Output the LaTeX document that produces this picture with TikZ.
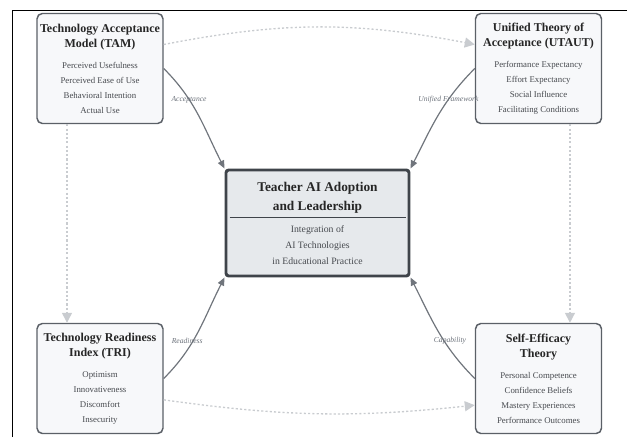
\documentclass[tikz,border=0pt]{standalone}
\usepackage{fontspec}
\setmainfont{Liberation Serif}
\usetikzlibrary{arrows.meta}

\definecolor{boxfill}{HTML}{F7F8FA}
\definecolor{boxline}{HTML}{5B6067}
\definecolor{corefill}{HTML}{E6E9EC}
\definecolor{coreline}{HTML}{3F444A}
\definecolor{linkgray}{HTML}{70757C}
\definecolor{flowgray}{HTML}{C9CCD0}
\definecolor{headtext}{HTML}{262626}
\definecolor{itemtext}{HTML}{474A4F}
\definecolor{labeltext}{HTML}{6B717A}

\newcommand{\headfont}{\fontsize{9}{11}\selectfont\bfseries\color{headtext}}
\newcommand{\corehead}{\fontsize{10}{12}\selectfont\bfseries\color{headtext}}

\tikzset{
  framework/.style={draw=boxline, fill=boxfill, line width=1.1pt, rounded corners=4pt,
    minimum width=94.5pt, minimum height=82.5pt, align=center, inner sep=2pt,
    text=itemtext, font=\fontsize{6.6}{11.25}\selectfont},
  core/.style={draw=coreline, fill=corefill, line width=2.2pt, rounded corners=2pt,
    minimum width=137.25pt, minimum height=79.5pt, align=center, inner sep=2pt,
    text=itemtext, font=\fontsize{7.3}{12}\selectfont},
  link/.style={draw=linkgray, line width=0.9pt, -{Triangle[length=6pt,width=5pt]}},
  flow/.style={draw=flowgray, line width=1pt, dashed, dash pattern=on 1.6pt off 1.6pt,
    -{Triangle[length=7.5pt,width=7.5pt]}},
  linklabel/.style={font=\fontsize{5.7}{7}\selectfont\itshape, text=labeltext, inner sep=1pt}
}

\begin{document}
\begin{tikzpicture}[x=0.75pt,y=0.75pt]
\useasboundingbox (0,0) rectangle (627,437);

% page frame
\draw[black, line width=0.75pt] (12,0) -- (12,427) -- (627,427);

% the four frameworks
\node[framework] (tam) at (100,368.5) {%
  {\headfont Technology Acceptance}\\{\headfont Model (TAM)}\\[4.5pt]
  Perceived Usefulness\\Perceived Ease of Use\\Behavioral Intention\\Actual Use};
\node[framework] (utaut) at (538.5,368.5) {%
  {\headfont Unified Theory of}\\{\headfont Acceptance (UTAUT)}\\[4.5pt]
  Performance Expectancy\\Effort Expectancy\\Social Influence\\Facilitating Conditions};
\node[framework] (tri) at (100,58.5) {%
  {\headfont Technology Readiness}\\{\headfont Index (TRI)}\\[4.5pt]
  Optimism\\Innovativeness\\Discomfort\\Insecurity};
\node[framework] (se) at (538.5,58.5) {%
  {\headfont Self-Efficacy}\\{\headfont Theory}\\[4.5pt]
  Personal Competence\\Confidence Beliefs\\Mastery Experiences\\Performance Outcomes};

% central concept
\node[core] (core) at (317.5,214) {%
  {\corehead Teacher AI Adoption}\\[2.25pt]{\corehead and Leadership}\\[-6pt]
  {\color{coreline}\rule{132pt}{0.5pt}}\\[-1.5pt]
  Integration of\\AI Technologies\\in Educational Practice};

% links into the centre
\draw[link] (tam.east) to[out=-45,in=117]
  node[linklabel,pos=0.33] (accLbl) {Acceptance} (core.north west);
\draw[link] (utaut.west) to[out=-135,in=63]
  node[linklabel,pos=0.33] (uniLbl) {Unified Framework} (core.north east);
\draw[link] (tri.east) to[out=45,in=-117]
  node[linklabel,pos=0.4,xshift=-4.5pt] (rdyLbl) {Readiness} (core.south west);
\draw[link] (se.west) to[out=135,in=-63]
  node[linklabel,pos=0.4,xshift=4.5pt] (capLbl) {Capability} (core.south east);

% flow between frameworks
\draw[flow] ([yshift=18pt]tam.east) to[bend left=11] ([yshift=18pt]utaut.west);
\draw[flow] ([yshift=-16pt]tri.east) to[bend right=7] ([yshift=-20pt]se.west);
\draw[flow] ([xshift=-24.75pt]tam.south) -- ([xshift=-24.75pt]tri.north);
\draw[flow] ([xshift=23.6pt]utaut.south) -- ([xshift=23.6pt]se.north);

\end{tikzpicture}
\end{document}
